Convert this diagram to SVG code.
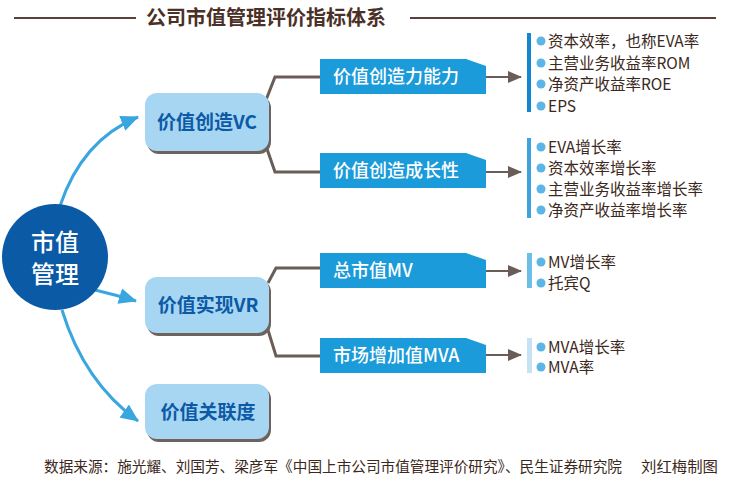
<svg xmlns="http://www.w3.org/2000/svg" width="729" height="489" viewBox="0 0 729 489">
<defs>
<style>
.title{font-family:"Noto Sans CJK SC","Noto Sans",sans-serif;font-size:20px;font-weight:bold;fill:#4a3026}
.rule{stroke:#5a4038;stroke-width:2}
.circtxt{font-family:"Noto Sans CJK SC",sans-serif;font-size:24px;font-weight:500;fill:#ffffff;text-anchor:middle}
.node{fill:#a7d6f3}
.shadow{fill:#6e625c}
.nodetxt{font-family:"Noto Sans CJK SC",sans-serif;font-size:19px;font-weight:bold;fill:#0c5aa6;text-anchor:middle}
.box{fill:#1b9bd9}
.boxtxt{font-family:"Noto Sans CJK SC",sans-serif;font-size:18px;font-weight:500;fill:#ffffff}
.conn{fill:none;stroke:#6a5d57;stroke-width:3}
.arr{fill:none;stroke:#6a5d57;stroke-width:2}
.blue{fill:none;stroke:#3aa6e0;stroke-width:3}
.item{font-family:"Noto Sans CJK SC",sans-serif;font-size:15.5px;fill:#3b2820}
.dot{fill:#5bb5e6}
.foot{font-family:"Noto Sans CJK SC",sans-serif;font-size:15px;fill:#3b2820}
</style>
<marker id="ga" markerUnits="userSpaceOnUse" markerWidth="14" markerHeight="12" refX="13" refY="6" orient="auto">
<path d="M0,0 L14,6 L0,12 Z" fill="#6a5d57"/>
</marker>
<marker id="ba" markerUnits="userSpaceOnUse" markerWidth="18" markerHeight="16" refX="17" refY="8" orient="auto">
<path d="M0,0 L18,8 L0,16 Z" fill="#3aa6e0"/>
</marker>
</defs>
<rect width="729" height="489" fill="#ffffff"/>

<g id="title">
<line class="rule" x1="14" y1="18" x2="136" y2="18"/>
<text class="title" x="146" y="25">公司市值管理评价指标体系</text>
<line class="rule" x1="410" y1="18" x2="716" y2="18"/>
</g>

<g id="connectors">
<path class="blue" d="M60,206 Q82,140 138,117" marker-end="url(#ba)"/>
<path class="blue" d="M95,290 Q116,295 136,301" marker-end="url(#ba)"/>
<path class="blue" d="M62,310 Q84,382 138,421" marker-end="url(#ba)"/>
<path class="conn" d="M266,100 L275,77 L320,77"/>
<path class="conn" d="M266,146 L275,172 L320,172"/>
<path class="conn" d="M268,283 L276,268 L320,268"/>
<path class="conn" d="M268,330 L276,356 L320,356"/>
<line class="arr" x1="486" y1="77" x2="521" y2="77" marker-end="url(#ga)"/>
<line class="arr" x1="486" y1="172" x2="521" y2="172" marker-end="url(#ga)"/>
<line class="arr" x1="486" y1="271" x2="521" y2="271" marker-end="url(#ga)"/>
<line class="arr" x1="486" y1="355" x2="521" y2="355" marker-end="url(#ga)"/>
</g>

<g id="root">
<circle cx="55" cy="257" r="53" fill="#0b5aa6"/>
<text class="circtxt" x="55" y="251">市值</text>
<text class="circtxt" x="55" y="283">管理</text>
</g>

<g id="vc">
<rect class="shadow" x="147" y="96" width="124" height="58" rx="12"/>
<rect class="node" x="145" y="93" width="124" height="58" rx="12"/>
<text class="nodetxt" x="207" y="129">价值创造VC</text>
</g>
<g id="vr">
<rect class="shadow" x="147" y="280" width="124" height="56" rx="12"/>
<rect class="node" x="145" y="277" width="124" height="56" rx="12"/>
<text class="nodetxt" x="208" y="312">价值实现VR</text>
</g>
<g id="vd">
<rect class="shadow" x="147" y="387" width="124" height="55" rx="12"/>
<rect class="node" x="145" y="384" width="124" height="55" rx="12"/>
<text class="nodetxt" x="208" y="419">价值关联度</text>
</g>

<g id="b1">
<path class="box" d="M320,59 L466,59 L486,66 L486,94 L320,94 Z"/>
<text class="boxtxt" x="333" y="83">价值创造力能力</text>
</g>
<g id="b2">
<path class="box" d="M320,153 L466,153 L486,160 L486,188 L320,188 Z"/>
<text class="boxtxt" x="333" y="177">价值创造成长性</text>
</g>
<g id="b3">
<path class="box" d="M320,253 L466,253 L486,260 L486,288 L320,288 Z"/>
<text class="boxtxt" x="333" y="277">总市值MV</text>
</g>
<g id="b4">
<path class="box" d="M320,338 L466,338 L486,345 L486,373 L320,373 Z"/>
<text class="boxtxt" x="333" y="362">市场增加值MVA</text>
</g>

<g id="list1">
<rect x="527" y="33" width="4" height="79" fill="#1287cf"/>
<circle class="dot" cx="541" cy="41" r="4.5"/>
<circle class="dot" cx="541" cy="63" r="4.5"/>
<circle class="dot" cx="541" cy="84" r="4.5"/>
<circle class="dot" cx="541" cy="106" r="4.5"/>
<text class="item" x="548" y="46.5">资本效率，也称EVA率</text>
<text class="item" x="548" y="68.5">主营业务收益率ROM</text>
<text class="item" x="548" y="89.5">净资产收益率ROE</text>
<text class="item" x="548" y="111.5">EPS</text>
</g>
<g id="list2">
<rect x="527" y="138" width="4" height="80" fill="#3ea3dc"/>
<circle class="dot" cx="541" cy="147" r="4.5"/>
<circle class="dot" cx="541" cy="168" r="4.5"/>
<circle class="dot" cx="541" cy="189" r="4.5"/>
<circle class="dot" cx="541" cy="210" r="4.5"/>
<text class="item" x="548" y="152.5">EVA增长率</text>
<text class="item" x="548" y="173.5">资本效率增长率</text>
<text class="item" x="548" y="194.5">主营业务收益率增长率</text>
<text class="item" x="548" y="215.5">净资产收益率增长率</text>
</g>
<g id="list3">
<rect x="527" y="253" width="5" height="35" fill="#6dbde9"/>
<circle class="dot" cx="541" cy="262" r="4.5"/>
<circle class="dot" cx="541" cy="283" r="4.5"/>
<text class="item" x="548" y="267.5">MV增长率</text>
<text class="item" x="548" y="288.5">托宾Q</text>
</g>
<g id="list4">
<rect x="527" y="338" width="5" height="35" fill="#c6e2f5"/>
<circle class="dot" cx="541" cy="347" r="4.5"/>
<circle class="dot" cx="541" cy="367" r="4.5"/>
<text class="item" x="548" y="352.5">MVA增长率</text>
<text class="item" x="548" y="372.5">MVA率</text>
</g>

<g id="footer">
<text class="foot" x="44" y="472" textLength="578" lengthAdjust="spacingAndGlyphs">数据来源：施光耀、刘国芳、梁彦军《中国上市公司市值管理评价研究》、民生证券研究院</text>
<text class="foot" x="641" y="472" textLength="77" lengthAdjust="spacingAndGlyphs">刘红梅制图</text>
</g>
</svg>
